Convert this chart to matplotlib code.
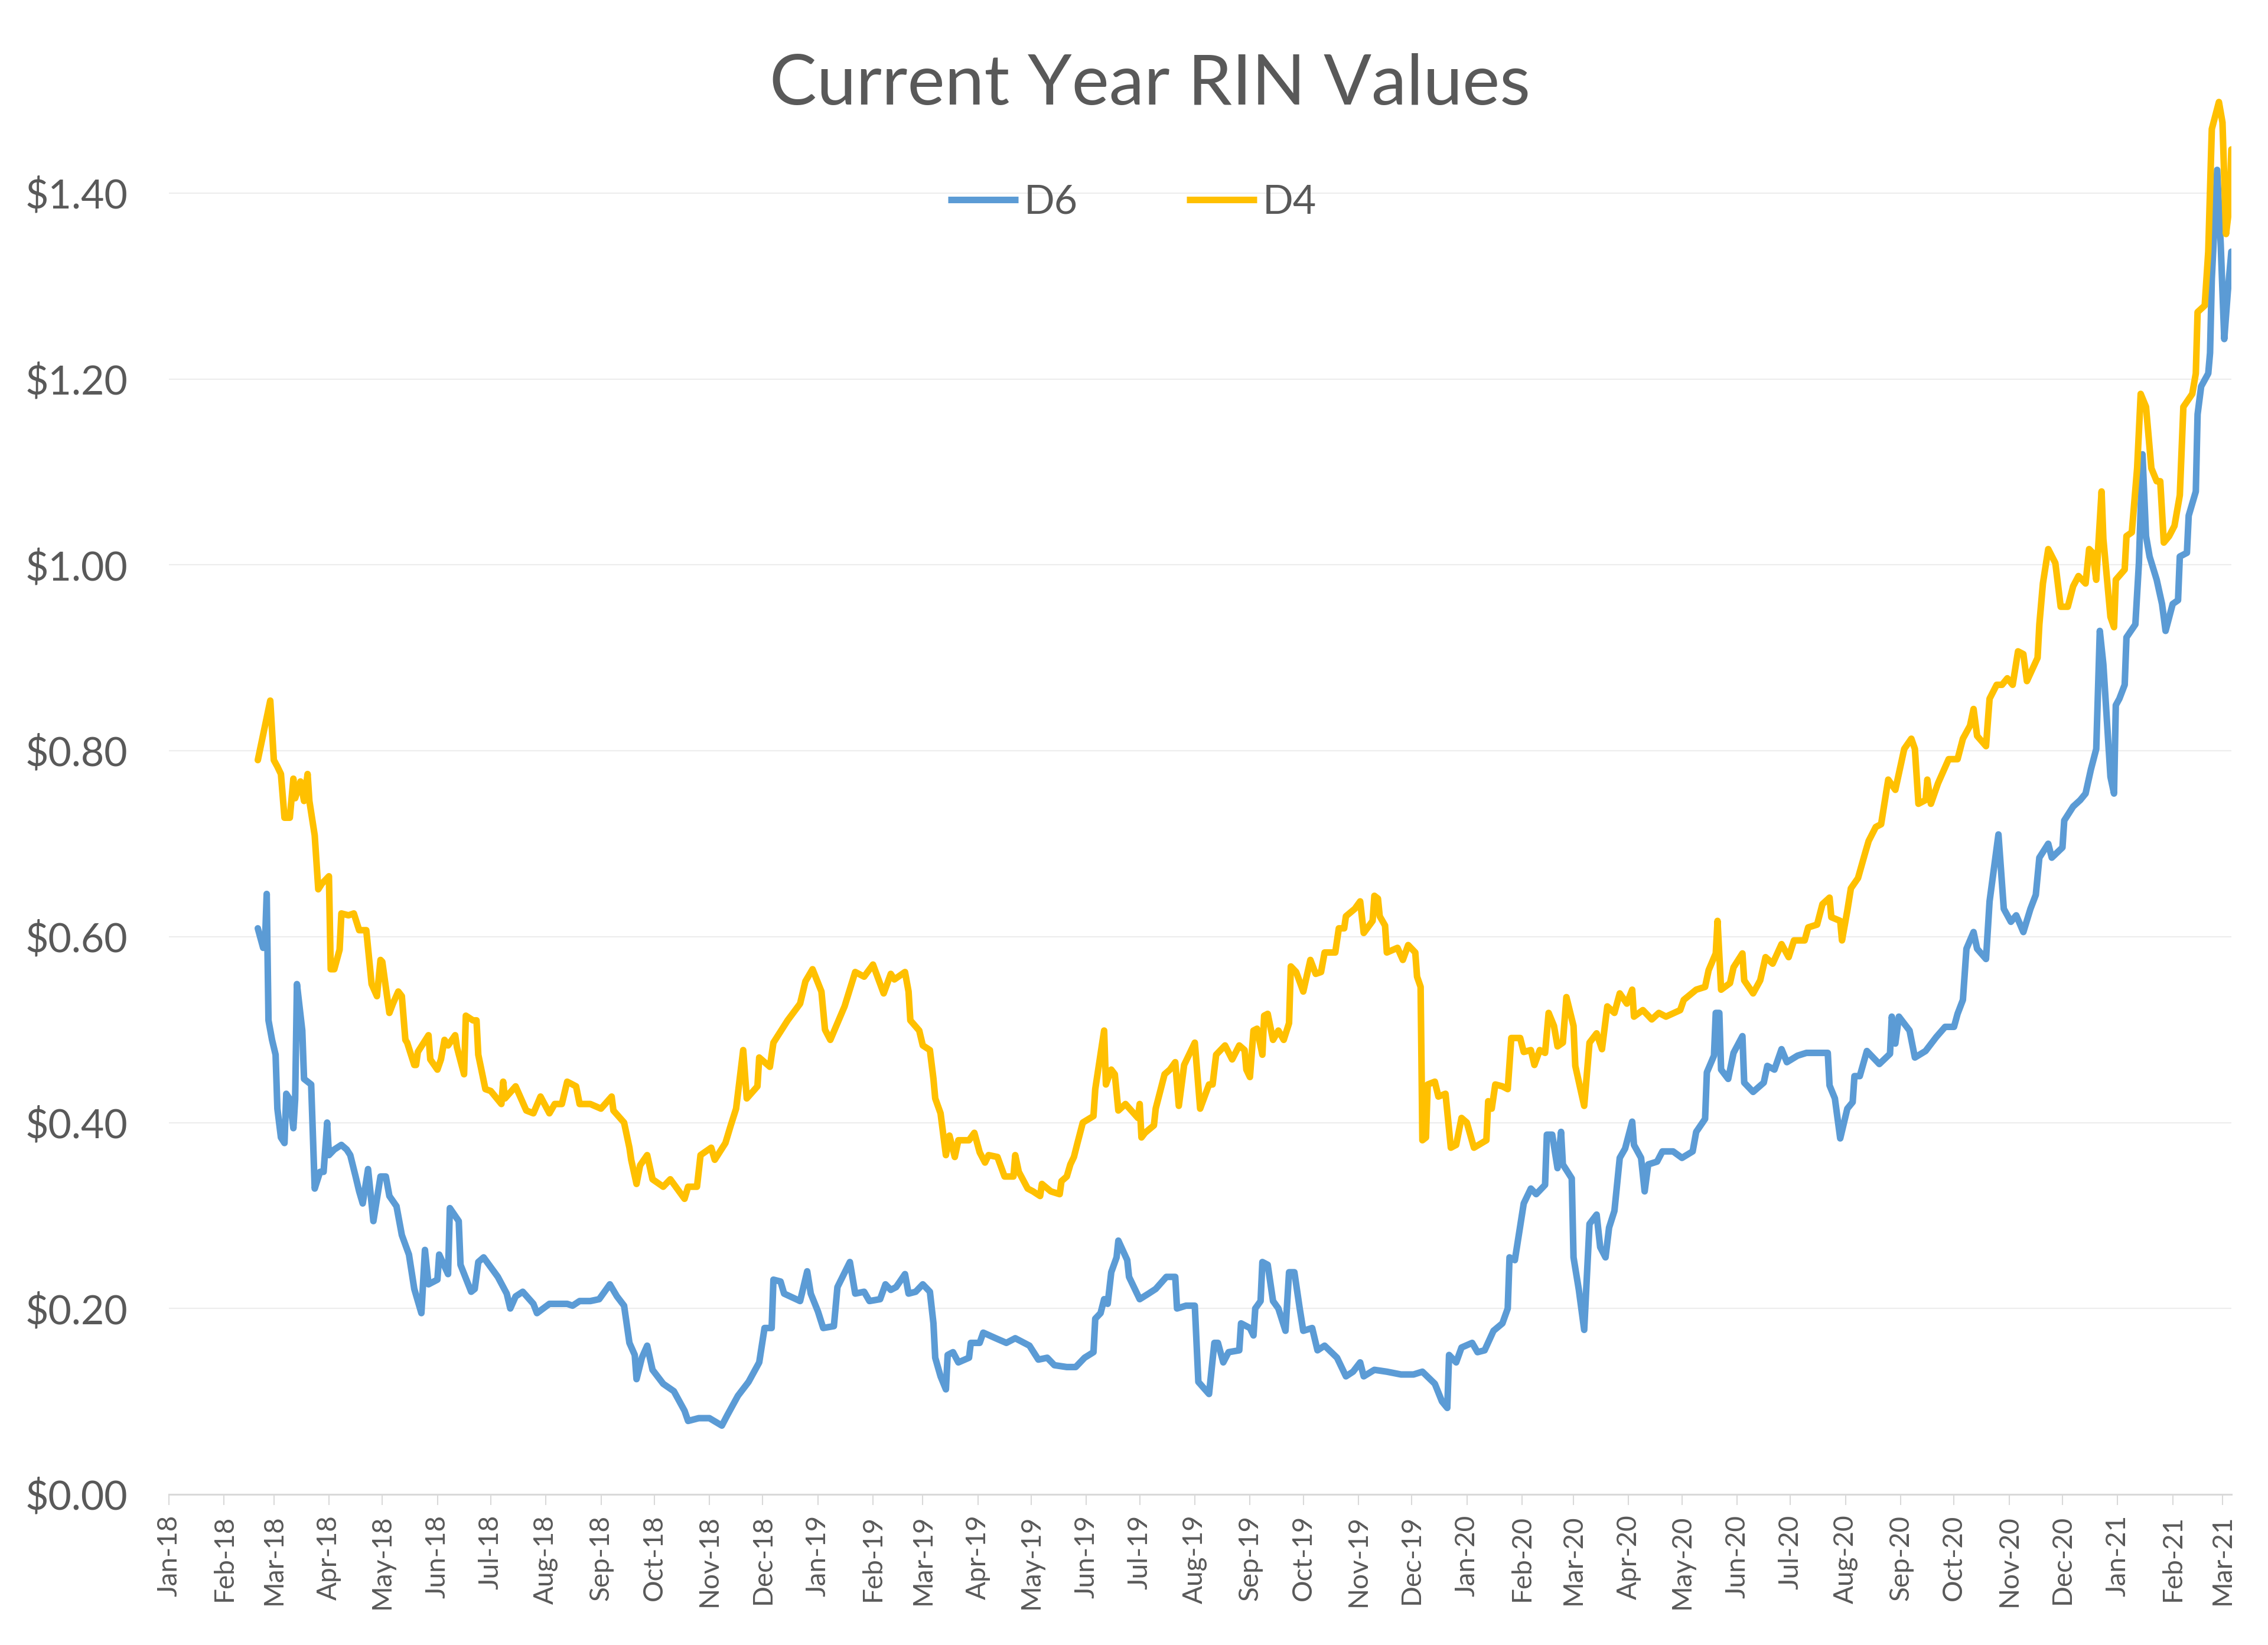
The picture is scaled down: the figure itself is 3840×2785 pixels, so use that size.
import matplotlib
matplotlib.use("Agg")
import matplotlib.pyplot as plt
import matplotlib.dates as mdates
from matplotlib.ticker import FuncFormatter
import pandas as pd

plt.rcParams['font.family'] = ['Lato', 'DejaVu Sans']

# ---------------- data ----------------
d6_dates = [
    "2018-02-20", "2018-02-23", "2018-02-24", "2018-02-25", "2018-02-26", "2018-02-28", "2018-03-02", "2018-03-03",
    "2018-03-05", "2018-03-07", "2018-03-08", "2018-03-10", "2018-03-12", "2018-03-13", "2018-03-14", "2018-03-17",
    "2018-03-18", "2018-03-22", "2018-03-24", "2018-03-27", "2018-03-29", "2018-03-31", "2018-04-01", "2018-04-04",
    "2018-04-08", "2018-04-11", "2018-04-13", "2018-04-16", "2018-04-18", "2018-04-20", "2018-04-23", "2018-04-26",
    "2018-04-30", "2018-05-03", "2018-05-05", "2018-05-09", "2018-05-12", "2018-05-16", "2018-05-19", "2018-05-23",
    "2018-05-25", "2018-05-27", "2018-06-01", "2018-06-02", "2018-06-07", "2018-06-08", "2018-06-13", "2018-06-14",
    "2018-06-20", "2018-06-22", "2018-06-24", "2018-06-27", "2018-07-05", "2018-07-10", "2018-07-12", "2018-07-15",
    "2018-07-19", "2018-07-25", "2018-07-27", "2018-08-03", "2018-08-13", "2018-08-16", "2018-08-20", "2018-08-26",
    "2018-08-31", "2018-09-06", "2018-09-10", "2018-09-14", "2018-09-17", "2018-09-20", "2018-09-21", "2018-09-24",
    "2018-09-27", "2018-09-30", "2018-10-06", "2018-10-12", "2018-10-18", "2018-10-20", "2018-10-26", "2018-11-01",
    "2018-11-08", "2018-11-11", "2018-11-17", "2018-11-23", "2018-11-29", "2018-12-02", "2018-12-06", "2018-12-07",
    "2018-12-11", "2018-12-13", "2018-12-22", "2018-12-26", "2018-12-28", "2019-01-01", "2019-01-04", "2019-01-10",
    "2019-01-12", "2019-01-19", "2019-01-22", "2019-01-27", "2019-01-30", "2019-02-05", "2019-02-08", "2019-02-11",
    "2019-02-14", "2019-02-19", "2019-02-21", "2019-02-25", "2019-03-01", "2019-03-05", "2019-03-07", "2019-03-08",
    "2019-03-11", "2019-03-14", "2019-03-15", "2019-03-18", "2019-03-21", "2019-03-27", "2019-03-28", "2019-04-02",
    "2019-04-04", "2019-04-11", "2019-04-17", "2019-04-22", "2019-04-30", "2019-05-05", "2019-05-10", "2019-05-14",
    "2019-05-21", "2019-05-26", "2019-05-31", "2019-06-05", "2019-06-06", "2019-06-09", "2019-06-11", "2019-06-13",
    "2019-06-15", "2019-06-18", "2019-06-19", "2019-06-24", "2019-06-25", "2019-07-01", "2019-07-06", "2019-07-10",
    "2019-07-16", "2019-07-21", "2019-07-22", "2019-07-27", "2019-08-01", "2019-08-03", "2019-08-09", "2019-08-12",
    "2019-08-14", "2019-08-17", "2019-08-20", "2019-08-26", "2019-08-27", "2019-09-01", "2019-09-03", "2019-09-04",
    "2019-09-07", "2019-09-08", "2019-09-11", "2019-09-14", "2019-09-17", "2019-09-21", "2019-09-23", "2019-09-26",
    "2019-09-29", "2019-10-01", "2019-10-06", "2019-10-09", "2019-10-13", "2019-10-20", "2019-10-25", "2019-10-29",
    "2019-11-02", "2019-11-04", "2019-11-10", "2019-11-17", "2019-11-25", "2019-12-02", "2019-12-07", "2019-12-14",
    "2019-12-18", "2019-12-21", "2019-12-22", "2019-12-26", "2019-12-29", "2020-01-04", "2020-01-07", "2020-01-11",
    "2020-01-16", "2020-01-21", "2020-01-24", "2020-01-25", "2020-01-28", "2020-02-02", "2020-02-06", "2020-02-09",
    "2020-02-14", "2020-02-15", "2020-02-18", "2020-02-21", "2020-02-23", "2020-02-24", "2020-02-29", "2020-03-01",
    "2020-03-04", "2020-03-07", "2020-03-10", "2020-03-14", "2020-03-16", "2020-03-19", "2020-03-21", "2020-03-24",
    "2020-03-27", "2020-03-30", "2020-04-03", "2020-04-04", "2020-04-08", "2020-04-10", "2020-04-12", "2020-04-17",
    "2020-04-20", "2020-04-26", "2020-05-01", "2020-05-07", "2020-05-09", "2020-05-14", "2020-05-15", "2020-05-19",
    "2020-05-20", "2020-05-22", "2020-05-23", "2020-05-27", "2020-05-30", "2020-06-04", "2020-06-05", "2020-06-10",
    "2020-06-16", "2020-06-18", "2020-06-22", "2020-06-26", "2020-06-29", "2020-07-05", "2020-07-10", "2020-07-22",
    "2020-07-23", "2020-07-26", "2020-07-29", "2020-08-02", "2020-08-05", "2020-08-06", "2020-08-09", "2020-08-13",
    "2020-08-20", "2020-08-26", "2020-08-27", "2020-08-29", "2020-08-31", "2020-09-06", "2020-09-09", "2020-09-15",
    "2020-09-21", "2020-09-26", "2020-10-01", "2020-10-03", "2020-10-06", "2020-10-08", "2020-10-12", "2020-10-14",
    "2020-10-19", "2020-10-21", "2020-10-23", "2020-10-26", "2020-10-29", "2020-11-02", "2020-11-05", "2020-11-09",
    "2020-11-13", "2020-11-16", "2020-11-18", "2020-11-23", "2020-11-25", "2020-12-01", "2020-12-02", "2020-12-07",
    "2020-12-11", "2020-12-14", "2020-12-17", "2020-12-20", "2020-12-22", "2020-12-24", "2020-12-28", "2020-12-30",
    "2020-12-31", "2021-01-02", "2021-01-05", "2021-01-06", "2021-01-11", "2021-01-13", "2021-01-15", "2021-01-17",
    "2021-01-19", "2021-01-23", "2021-01-26", "2021-01-28", "2021-02-01", "2021-02-04", "2021-02-05", "2021-02-09",
    "2021-02-10", "2021-02-14", "2021-02-15", "2021-02-17", "2021-02-21", "2021-02-22", "2021-02-23", "2021-02-26",
    "2021-02-28", "2021-03-02", "2021-03-04", "2021-03-06",
]
d6_values = [
    0.609, 0.588, 0.591, 0.646, 0.510, 0.489, 0.473, 0.415,
    0.384, 0.378, 0.431, 0.425, 0.394, 0.425, 0.549, 0.499,
    0.447, 0.441, 0.329, 0.347, 0.347, 0.400, 0.365, 0.371,
    0.376, 0.371, 0.365, 0.342, 0.326, 0.313, 0.350, 0.294,
    0.342, 0.342, 0.321, 0.310, 0.279, 0.258, 0.221, 0.195,
    0.263, 0.226, 0.231, 0.258, 0.237, 0.308, 0.294, 0.247,
    0.218, 0.221, 0.250, 0.255, 0.234, 0.216, 0.200, 0.213,
    0.218, 0.205, 0.195, 0.205, 0.205, 0.203, 0.208, 0.208,
    0.210, 0.226, 0.213, 0.203, 0.163, 0.150, 0.124, 0.147,
    0.160, 0.134, 0.119, 0.111, 0.090, 0.079, 0.082, 0.082,
    0.074, 0.085, 0.106, 0.121, 0.142, 0.179, 0.179, 0.231,
    0.229, 0.216, 0.208, 0.240, 0.216, 0.197, 0.179, 0.181,
    0.223, 0.250, 0.216, 0.218, 0.208, 0.210, 0.226, 0.220,
    0.223, 0.237, 0.216, 0.218, 0.226, 0.218, 0.184, 0.147,
    0.127, 0.113, 0.150, 0.153, 0.142, 0.147, 0.163, 0.163,
    0.174, 0.168, 0.163, 0.168, 0.160, 0.145, 0.147, 0.139,
    0.137, 0.137, 0.147, 0.153, 0.189, 0.195, 0.210, 0.205,
    0.239, 0.255, 0.273, 0.252, 0.234, 0.210, 0.216, 0.221,
    0.234, 0.234, 0.200, 0.203, 0.203, 0.121, 0.108, 0.163,
    0.163, 0.142, 0.153, 0.155, 0.184, 0.179, 0.171, 0.200,
    0.208, 0.250, 0.247, 0.208, 0.200, 0.176, 0.239, 0.239,
    0.200, 0.176, 0.179, 0.155, 0.160, 0.147, 0.127, 0.132,
    0.142, 0.127, 0.134, 0.132, 0.129, 0.129, 0.132, 0.119,
    0.100, 0.093, 0.150, 0.142, 0.158, 0.163, 0.153, 0.155,
    0.176, 0.184, 0.200, 0.255, 0.252, 0.313, 0.329, 0.323,
    0.333, 0.387, 0.387, 0.351, 0.390, 0.355, 0.340, 0.255,
    0.220, 0.177, 0.291, 0.301, 0.266, 0.255, 0.287, 0.305,
    0.362, 0.372, 0.401, 0.376, 0.362, 0.326, 0.355, 0.358,
    0.369, 0.369, 0.362, 0.369, 0.390, 0.404, 0.454, 0.472,
    0.518, 0.518, 0.457, 0.447, 0.475, 0.493, 0.443, 0.433,
    0.443, 0.461, 0.457, 0.479, 0.465, 0.472, 0.475, 0.475,
    0.440, 0.426, 0.383, 0.415, 0.422, 0.450, 0.450, 0.477,
    0.463, 0.474, 0.514, 0.485, 0.514, 0.499, 0.470, 0.477,
    0.492, 0.503, 0.503, 0.517, 0.532, 0.587, 0.605, 0.587,
    0.576, 0.638, 0.667, 0.710, 0.630, 0.616, 0.623, 0.605,
    0.630, 0.645, 0.685, 0.700, 0.685, 0.696, 0.725, 0.740,
    0.747, 0.754, 0.780, 0.802, 0.929, 0.893, 0.772, 0.754,
    0.849, 0.856, 0.871, 0.922, 0.936, 1.002, 1.119, 1.031,
    1.009, 0.984, 0.958, 0.929, 0.958, 0.962, 1.009, 1.013,
    1.053, 1.079, 1.162, 1.192, 1.206, 1.228, 1.308, 1.425,
    1.345, 1.243, 1.294, 1.337,
]

d4_dates = [
    "2018-02-20", "2018-02-27", "2018-03-01", "2018-03-03", "2018-03-05", "2018-03-07", "2018-03-10", "2018-03-12",
    "2018-03-13", "2018-03-16", "2018-03-18", "2018-03-20", "2018-03-21", "2018-03-24", "2018-03-26", "2018-03-28",
    "2018-04-01", "2018-04-02", "2018-04-04", "2018-04-07", "2018-04-08", "2018-04-12", "2018-04-15", "2018-04-18",
    "2018-04-22", "2018-04-25", "2018-04-28", "2018-04-30", "2018-05-01", "2018-05-05", "2018-05-07", "2018-05-10",
    "2018-05-12", "2018-05-14", "2018-05-15", "2018-05-19", "2018-05-20", "2018-05-21", "2018-05-27", "2018-05-28",
    "2018-06-01", "2018-06-03", "2018-06-05", "2018-06-07", "2018-06-11", "2018-06-12", "2018-06-16", "2018-06-17",
    "2018-06-21", "2018-06-23", "2018-06-24", "2018-06-28", "2018-07-01", "2018-07-07", "2018-07-08", "2018-07-09",
    "2018-07-15", "2018-07-21", "2018-07-25", "2018-07-29", "2018-08-03", "2018-08-06", "2018-08-10", "2018-08-13",
    "2018-08-18", "2018-08-20", "2018-08-26", "2018-09-01", "2018-09-07", "2018-09-08", "2018-09-14", "2018-09-17",
    "2018-09-18", "2018-09-21", "2018-09-23", "2018-09-27", "2018-09-30", "2018-10-06", "2018-10-10", "2018-10-18",
    "2018-10-20", "2018-10-25", "2018-10-27", "2018-11-02", "2018-11-04", "2018-11-10", "2018-11-13", "2018-11-16",
    "2018-11-20", "2018-11-22", "2018-11-28", "2018-11-29", "2018-12-05", "2018-12-07", "2018-12-15", "2018-12-22",
    "2018-12-25", "2018-12-29", "2019-01-03", "2019-01-05", "2019-01-08", "2019-01-16", "2019-01-22", "2019-01-27",
    "2019-02-01", "2019-02-07", "2019-02-11", "2019-02-13", "2019-02-19", "2019-02-21", "2019-02-22", "2019-02-27",
    "2019-03-01", "2019-03-05", "2019-03-07", "2019-03-08", "2019-03-11", "2019-03-14", "2019-03-16", "2019-03-19",
    "2019-03-21", "2019-03-27", "2019-03-30", "2019-04-02", "2019-04-05", "2019-04-07", "2019-04-12", "2019-04-16",
    "2019-04-21", "2019-04-22", "2019-04-24", "2019-04-29", "2019-05-02", "2019-05-06", "2019-05-07", "2019-05-12",
    "2019-05-17", "2019-05-18", "2019-05-21", "2019-05-23", "2019-05-25", "2019-05-27", "2019-05-30", "2019-06-05",
    "2019-06-06", "2019-06-11", "2019-06-12", "2019-06-15", "2019-06-17", "2019-06-19", "2019-06-23", "2019-06-30",
    "2019-07-01", "2019-07-02", "2019-07-04", "2019-07-09", "2019-07-10", "2019-07-15", "2019-07-18", "2019-07-21",
    "2019-07-23", "2019-07-26", "2019-08-01", "2019-08-04", "2019-08-09", "2019-08-11", "2019-08-13", "2019-08-18",
    "2019-08-22", "2019-08-26", "2019-08-29", "2019-08-30", "2019-09-01", "2019-09-03", "2019-09-05", "2019-09-08",
    "2019-09-09", "2019-09-11", "2019-09-14", "2019-09-17", "2019-09-20", "2019-09-23", "2019-09-24", "2019-09-27",
    "2019-10-01", "2019-10-05", "2019-10-08", "2019-10-11", "2019-10-13", "2019-10-19", "2019-10-21", "2019-10-24",
    "2019-10-25", "2019-10-30", "2019-11-02", "2019-11-04", "2019-11-09", "2019-11-10", "2019-11-12", "2019-11-13",
    "2019-11-16", "2019-11-17", "2019-11-23", "2019-11-26", "2019-11-29", "2019-12-03", "2019-12-04", "2019-12-06",
    "2019-12-07", "2019-12-09", "2019-12-10", "2019-12-14", "2019-12-16", "2019-12-20", "2019-12-23", "2019-12-26",
    "2019-12-29", "2020-01-01", "2020-01-05", "2020-01-12", "2020-01-13", "2020-01-15", "2020-01-17", "2020-01-21",
    "2020-01-24", "2020-01-26", "2020-01-31", "2020-02-02", "2020-02-06", "2020-02-08", "2020-02-11", "2020-02-14",
    "2020-02-16", "2020-02-19", "2020-02-21", "2020-02-24", "2020-02-26", "2020-03-01", "2020-03-02", "2020-03-07",
    "2020-03-10", "2020-03-14", "2020-03-17", "2020-03-20", "2020-03-24", "2020-03-27", "2020-03-31", "2020-04-03",
    "2020-04-04", "2020-04-09", "2020-04-14", "2020-04-18", "2020-04-22", "2020-04-30", "2020-05-02", "2020-05-09",
    "2020-05-14", "2020-05-16", "2020-05-20", "2020-05-21", "2020-05-23", "2020-05-28", "2020-05-30", "2020-06-04",
    "2020-06-05", "2020-06-10", "2020-06-14", "2020-06-17", "2020-06-21", "2020-06-26", "2020-06-30", "2020-07-03",
    "2020-07-09", "2020-07-11", "2020-07-16", "2020-07-19", "2020-07-23", "2020-07-24", "2020-07-29", "2020-07-30",
    "2020-08-02", "2020-08-04", "2020-08-08", "2020-08-12", "2020-08-14", "2020-08-18", "2020-08-21", "2020-08-25",
    "2020-08-29", "2020-09-03", "2020-09-07", "2020-09-09", "2020-09-11", "2020-09-15", "2020-09-16", "2020-09-18",
    "2020-09-22", "2020-09-28", "2020-10-03", "2020-10-06", "2020-10-10", "2020-10-12", "2020-10-14", "2020-10-19",
    "2020-10-21", "2020-10-25", "2020-10-28", "2020-10-31", "2020-11-03", "2020-11-06", "2020-11-09", "2020-11-11",
    "2020-11-17", "2020-11-18", "2020-11-20", "2020-11-23", "2020-11-27", "2020-11-30", "2020-12-04", "2020-12-07",
    "2020-12-10", "2020-12-14", "2020-12-16", "2020-12-18", "2020-12-20", "2020-12-23", "2020-12-24", "2020-12-28",
    "2020-12-30", "2020-12-31", "2021-01-05", "2021-01-06", "2021-01-09", "2021-01-12", "2021-01-14", "2021-01-17",
    "2021-01-20", "2021-01-23", "2021-01-25", "2021-01-27", "2021-01-30", "2021-02-02", "2021-02-05", "2021-02-07",
    "2021-02-12", "2021-02-14", "2021-02-15", "2021-02-19", "2021-02-21", "2021-02-23", "2021-02-27", "2021-03-01",
    "2021-03-03", "2021-03-05", "2021-03-06",
]
d4_values = [
    0.790, 0.854, 0.790, 0.783, 0.775, 0.728, 0.728, 0.770,
    0.749, 0.767, 0.746, 0.775, 0.746, 0.709, 0.651, 0.657,
    0.665, 0.565, 0.565, 0.586, 0.625, 0.623, 0.625, 0.607,
    0.607, 0.549, 0.536, 0.575, 0.573, 0.518, 0.528, 0.541,
    0.536, 0.489, 0.486, 0.462, 0.462, 0.476, 0.494, 0.468,
    0.457, 0.468, 0.489, 0.483, 0.494, 0.481, 0.452, 0.515,
    0.510, 0.510, 0.473, 0.436, 0.434, 0.420, 0.444, 0.426,
    0.439, 0.413, 0.410, 0.428, 0.410, 0.420, 0.420, 0.444,
    0.439, 0.420, 0.420, 0.415, 0.428, 0.413, 0.400, 0.373,
    0.360, 0.334, 0.354, 0.365, 0.339, 0.331, 0.339, 0.318,
    0.331, 0.331, 0.365, 0.373, 0.360, 0.378, 0.397, 0.415,
    0.478, 0.426, 0.439, 0.470, 0.460, 0.486, 0.510, 0.528,
    0.552, 0.565, 0.541, 0.500, 0.489, 0.525, 0.562, 0.557,
    0.570, 0.539, 0.560, 0.554, 0.562, 0.541, 0.510, 0.499,
    0.483, 0.478, 0.447, 0.426, 0.410, 0.365, 0.386, 0.363,
    0.381, 0.381, 0.389, 0.368, 0.357, 0.365, 0.363, 0.342,
    0.342, 0.365, 0.347, 0.329, 0.326, 0.321, 0.334, 0.326,
    0.323, 0.337, 0.342, 0.355, 0.363, 0.378, 0.400, 0.407,
    0.436, 0.499, 0.441, 0.457, 0.452, 0.413, 0.420, 0.405,
    0.420, 0.384, 0.389, 0.397, 0.415, 0.452, 0.457, 0.465,
    0.418, 0.462, 0.486, 0.415, 0.441, 0.441, 0.473, 0.483,
    0.468, 0.483, 0.478, 0.457, 0.449, 0.499, 0.501, 0.473,
    0.515, 0.517, 0.489, 0.499, 0.489, 0.507, 0.568, 0.562,
    0.541, 0.575, 0.560, 0.562, 0.583, 0.583, 0.609, 0.609,
    0.622, 0.630, 0.638, 0.604, 0.617, 0.644, 0.641, 0.622,
    0.612, 0.583, 0.588, 0.575, 0.591, 0.583, 0.557, 0.546,
    0.381, 0.384, 0.441, 0.444, 0.428, 0.431, 0.373, 0.376,
    0.405, 0.400, 0.373, 0.381, 0.423, 0.415, 0.441, 0.439,
    0.436, 0.491, 0.491, 0.476, 0.478, 0.462, 0.478, 0.475,
    0.518, 0.504, 0.482, 0.486, 0.535, 0.504, 0.461, 0.418,
    0.486, 0.496, 0.479, 0.525, 0.518, 0.539, 0.528, 0.543,
    0.514, 0.521, 0.511, 0.518, 0.514, 0.521, 0.532, 0.543,
    0.546, 0.564, 0.582, 0.617, 0.543, 0.550, 0.567, 0.582,
    0.553, 0.539, 0.553, 0.578, 0.571, 0.592, 0.578, 0.596,
    0.596, 0.610, 0.613, 0.635, 0.642, 0.621, 0.617, 0.596,
    0.628, 0.652, 0.663, 0.690, 0.703, 0.718, 0.721, 0.769,
    0.758, 0.802, 0.813, 0.802, 0.743, 0.747, 0.769, 0.743,
    0.765, 0.791, 0.791, 0.813, 0.827, 0.845, 0.816, 0.805,
    0.856, 0.871, 0.871, 0.878, 0.871, 0.907, 0.904, 0.875,
    0.900, 0.936, 0.980, 1.017, 1.002, 0.955, 0.955, 0.977,
    0.988, 0.980, 1.017, 1.013, 0.984, 1.079, 1.028, 0.944,
    0.933, 0.984, 0.995, 1.031, 1.035, 1.104, 1.184, 1.170,
    1.104, 1.090, 1.090, 1.024, 1.031, 1.042, 1.075, 1.170,
    1.184, 1.206, 1.272, 1.279, 1.337, 1.469, 1.498, 1.476,
    1.356, 1.388, 1.447,
]

series_names = ["D6", "D4"]
series_colors = ["#5B9BD5", "#FFC000"]
title_text = "Current Year RIN Values"
y_ticks = [0.0, 0.2, 0.4, 0.6, 0.8, 1.0, 1.2, 1.4]
x_start, x_end = "2018-01-01", "2021-03-06"

# ---------------- figure ----------------
TXT = "#595959"
fig = plt.figure(figsize=(38.4, 27.85), dpi=100)
ax = fig.add_axes([0.07448, 0.091562, 0.90937, 0.85885])
ax.set_facecolor("none")

lw = 8.0
l6, = ax.plot(pd.to_datetime(d6_dates), d6_values, color=series_colors[0], lw=lw,
              solid_joinstyle="round", solid_capstyle="round", label=series_names[0], zorder=3)
l4, = ax.plot(pd.to_datetime(d4_dates), d4_values, color=series_colors[1], lw=lw,
              solid_joinstyle="round", solid_capstyle="round", label=series_names[1], zorder=4)

ax.set_xlim(pd.Timestamp(x_start), pd.Timestamp(x_end))
ax.set_ylim(0, 1.52)
ax.set_yticks(y_ticks)
ax.yaxis.set_major_formatter(FuncFormatter(lambda v, p: r"\$" + f"{v:.2f}"))
ax.xaxis.set_major_locator(mdates.MonthLocator())
ax.xaxis.set_major_formatter(mdates.DateFormatter("%b-%y"))

for s in ["top", "right", "left"]:
    ax.spines[s].set_visible(False)
ax.spines["bottom"].set_color("#D9D9D9")
ax.spines["bottom"].set_linewidth(2.2)
ax.spines["bottom"].set_zorder(2)

ax.yaxis.grid(True, color="#EDEDED", lw=1.6, zorder=0)
ax.set_axisbelow(True)

ax.tick_params(axis="y", length=0, pad=50, labelsize=49, labelcolor=TXT)
ax.tick_params(axis="x", direction="out", length=13, width=1.5, color="#D9D9D9",
               pad=12, labelsize=33, labelcolor=TXT, labelrotation=90)

fig.text(0.507, 1 - 177 / 2785, title_text, ha="center", va="baseline",
         fontsize=86, color=TXT)

leg = fig.legend(handles=[l6, l4], labels=series_names, loc="center",
                 bbox_to_anchor=(0.4992, 0.877), ncol=2, frameon=False,
                 fontsize=49, handlelength=1.75, handletextpad=0.15,
                 columnspacing=2.7, labelcolor=TXT)
for h in leg.get_lines():
    h.set_linewidth(lw)
    h.set_solid_capstyle("butt")

fig.savefig("out.png", dpi=100)
